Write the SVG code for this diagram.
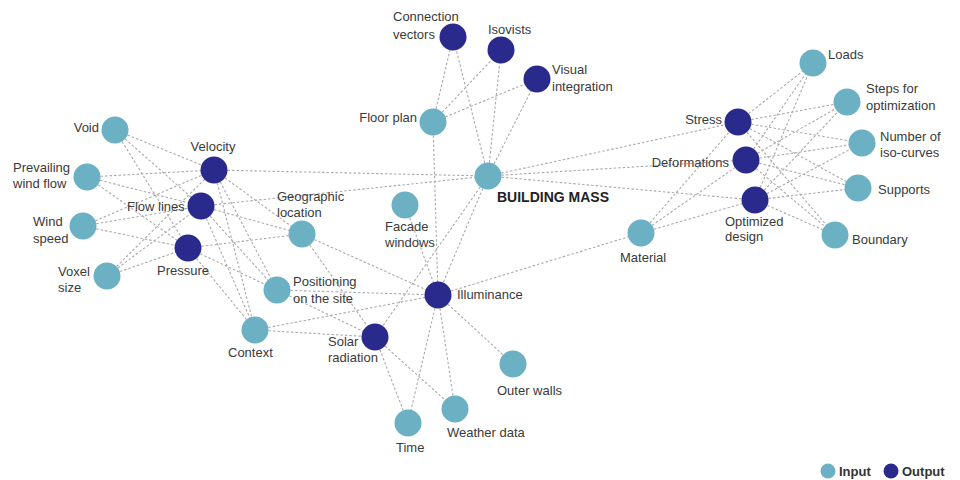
<svg xmlns="http://www.w3.org/2000/svg" width="960" height="480" viewBox="0 0 960 480">
<style>
.e{stroke:#aaaaaa;stroke-width:1.1;stroke-dasharray:2.5 2;fill:none}
.in{fill:#6cb0c4}
.out{fill:#2a2a8c}
text{font-family:"Liberation Sans",Arial,sans-serif;font-size:13px;fill:#3a3a3a}
.b{font-weight:bold;font-size:14px;fill:#222}
.lg{font-weight:bold;font-size:13px;fill:#333}
</style>
<rect width="960" height="480" fill="#ffffff"/>
<g id="connectors">
<line class="e" x1="115" y1="130" x2="214" y2="170"/>
<line class="e" x1="115" y1="130" x2="201" y2="206"/>
<line class="e" x1="115" y1="130" x2="188" y2="248"/>
<line class="e" x1="87" y1="177" x2="214" y2="170"/>
<line class="e" x1="87" y1="177" x2="201" y2="206"/>
<line class="e" x1="87" y1="177" x2="188" y2="248"/>
<line class="e" x1="83" y1="226" x2="214" y2="170"/>
<line class="e" x1="83" y1="226" x2="201" y2="206"/>
<line class="e" x1="83" y1="226" x2="188" y2="248"/>
<line class="e" x1="107" y1="276" x2="214" y2="170"/>
<line class="e" x1="107" y1="276" x2="201" y2="206"/>
<line class="e" x1="107" y1="276" x2="188" y2="248"/>
<line class="e" x1="214" y1="170" x2="302" y2="234"/>
<line class="e" x1="214" y1="170" x2="277" y2="290"/>
<line class="e" x1="214" y1="170" x2="255" y2="330"/>
<line class="e" x1="201" y1="206" x2="302" y2="234"/>
<line class="e" x1="201" y1="206" x2="277" y2="290"/>
<line class="e" x1="201" y1="206" x2="255" y2="330"/>
<line class="e" x1="188" y1="248" x2="302" y2="234"/>
<line class="e" x1="188" y1="248" x2="277" y2="290"/>
<line class="e" x1="188" y1="248" x2="255" y2="330"/>
<line class="e" x1="214" y1="170" x2="488" y2="176"/>
<line class="e" x1="201" y1="206" x2="488" y2="176"/>
<line class="e" x1="302" y1="234" x2="438" y2="295"/>
<line class="e" x1="302" y1="234" x2="375" y2="337"/>
<line class="e" x1="277" y1="290" x2="438" y2="295"/>
<line class="e" x1="277" y1="290" x2="375" y2="337"/>
<line class="e" x1="255" y1="330" x2="438" y2="295"/>
<line class="e" x1="255" y1="330" x2="375" y2="337"/>
<line class="e" x1="405" y1="205" x2="438" y2="295"/>
<line class="e" x1="433" y1="122" x2="453" y2="37"/>
<line class="e" x1="433" y1="122" x2="501" y2="50"/>
<line class="e" x1="433" y1="122" x2="537" y2="79"/>
<line class="e" x1="488" y1="176" x2="453" y2="37"/>
<line class="e" x1="488" y1="176" x2="501" y2="50"/>
<line class="e" x1="488" y1="176" x2="537" y2="79"/>
<line class="e" x1="433" y1="122" x2="438" y2="295"/>
<line class="e" x1="488" y1="176" x2="438" y2="295"/>
<line class="e" x1="488" y1="176" x2="375" y2="337"/>
<line class="e" x1="438" y1="295" x2="408" y2="423"/>
<line class="e" x1="438" y1="295" x2="455" y2="409"/>
<line class="e" x1="438" y1="295" x2="513" y2="364"/>
<line class="e" x1="375" y1="337" x2="408" y2="423"/>
<line class="e" x1="375" y1="337" x2="455" y2="409"/>
<line class="e" x1="438" y1="295" x2="641" y2="233"/>
<line class="e" x1="488" y1="176" x2="738" y2="122"/>
<line class="e" x1="488" y1="176" x2="746" y2="160"/>
<line class="e" x1="488" y1="176" x2="755" y2="200"/>
<line class="e" x1="641" y1="233" x2="738" y2="122"/>
<line class="e" x1="641" y1="233" x2="746" y2="160"/>
<line class="e" x1="641" y1="233" x2="755" y2="200"/>
<line class="e" x1="738" y1="122" x2="813" y2="63"/>
<line class="e" x1="738" y1="122" x2="847" y2="102"/>
<line class="e" x1="738" y1="122" x2="862" y2="143"/>
<line class="e" x1="738" y1="122" x2="858" y2="188"/>
<line class="e" x1="738" y1="122" x2="835" y2="235"/>
<line class="e" x1="746" y1="160" x2="813" y2="63"/>
<line class="e" x1="746" y1="160" x2="847" y2="102"/>
<line class="e" x1="746" y1="160" x2="862" y2="143"/>
<line class="e" x1="746" y1="160" x2="858" y2="188"/>
<line class="e" x1="746" y1="160" x2="835" y2="235"/>
<line class="e" x1="755" y1="200" x2="813" y2="63"/>
<line class="e" x1="755" y1="200" x2="847" y2="102"/>
<line class="e" x1="755" y1="200" x2="862" y2="143"/>
<line class="e" x1="755" y1="200" x2="858" y2="188"/>
<line class="e" x1="755" y1="200" x2="835" y2="235"/>
</g>
<g id="void"><circle class="in" cx="115" cy="130" r="13.5"/><text x="99" y="132" text-anchor="end">Void</text></g>
<g id="prevailing-wind-flow"><circle class="in" cx="87" cy="177" r="13.5"/><text x="13" y="172">Prevailing</text><text x="13" y="188">wind flow</text></g>
<g id="wind-speed"><circle class="in" cx="83" cy="226" r="13.5"/><text x="33" y="226">Wind</text><text x="33" y="243">speed</text></g>
<g id="voxel-size"><circle class="in" cx="107" cy="276" r="13.5"/><text x="58" y="276">Voxel</text><text x="58" y="292">size</text></g>
<g id="velocity"><circle class="out" cx="214" cy="170" r="13.5"/><text x="213" y="151" text-anchor="middle">Velocity</text></g>
<g id="flow-lines"><circle class="out" cx="201" cy="206" r="13.5"/><text x="127" y="211">Flow lines</text></g>
<g id="pressure"><circle class="out" cx="188" cy="248" r="13.5"/><text x="183" y="275" text-anchor="middle">Pressure</text></g>
<g id="geographic-location"><circle class="in" cx="302" cy="234" r="13.5"/><text x="277" y="201">Geographic</text><text x="277" y="217">location</text></g>
<g id="positioning"><circle class="in" cx="277" cy="290" r="13.5"/><text x="293" y="286">Positioning</text><text x="293" y="303">on the site</text></g>
<g id="context"><circle class="in" cx="255" cy="330" r="13.5"/><text x="228" y="357">Context</text></g>
<g id="solar-radiation"><circle class="out" cx="375" cy="337" r="13.5"/><text x="328" y="346">Solar</text><text x="328" y="362">radiation</text></g>
<g id="illuminance"><circle class="out" cx="438" cy="295" r="13.5"/><text x="457" y="299">Illuminance</text></g>
<g id="outer-walls"><circle class="in" cx="513" cy="364" r="13.5"/><text x="497" y="395">Outer walls</text></g>
<g id="weather-data"><circle class="in" cx="455" cy="409" r="13.5"/><text x="447" y="437">Weather data</text></g>
<g id="time"><circle class="in" cx="408" cy="423" r="13.5"/><text x="396" y="452">Time</text></g>
<g id="facade-windows"><circle class="in" cx="405" cy="205" r="13.5"/><text x="385" y="231">Facade</text><text x="385" y="247">windows</text></g>
<g id="floor-plan"><circle class="in" cx="433" cy="122" r="13.5"/><text x="417" y="122" text-anchor="end">Floor plan</text></g>
<g id="building-mass"><circle class="in" cx="488" cy="176" r="13.5"/><text class="b" x="497" y="202">BUILDING MASS</text></g>
<g id="connection-vectors"><circle class="out" cx="453" cy="37" r="13.5"/><text x="393" y="21">Connection</text><text x="393" y="39">vectors</text></g>
<g id="isovists"><circle class="out" cx="501" cy="50" r="13.5"/><text x="488" y="34">Isovists</text></g>
<g id="visual-integration"><circle class="out" cx="537" cy="79" r="13.5"/><text x="552" y="74">Visual</text><text x="552" y="91">integration</text></g>
<g id="loads"><circle class="in" cx="813" cy="63" r="13.5"/><text x="828" y="59">Loads</text></g>
<g id="steps-for-optimization"><circle class="in" cx="847" cy="102" r="13.5"/><text x="866" y="93">Steps for</text><text x="866" y="110">optimization</text></g>
<g id="number-of-iso-curves"><circle class="in" cx="862" cy="143" r="13.5"/><text x="880" y="141">Number of</text><text x="880" y="157">iso-curves</text></g>
<g id="supports"><circle class="in" cx="858" cy="188" r="13.5"/><text x="878" y="194">Supports</text></g>
<g id="boundary"><circle class="in" cx="835" cy="235" r="13.5"/><text x="852" y="244">Boundary</text></g>
<g id="stress"><circle class="out" cx="738" cy="122" r="13.5"/><text x="722" y="124" text-anchor="end">Stress</text></g>
<g id="deformations"><circle class="out" cx="746" cy="160" r="13.5"/><text x="729" y="167" text-anchor="end">Deformations</text></g>
<g id="optimized-design"><circle class="out" cx="755" cy="200" r="13.5"/><text x="725" y="226">Optimized</text><text x="725" y="241">design</text></g>
<g id="material"><circle class="in" cx="641" cy="233" r="13.5"/><text x="620" y="262">Material</text></g>
<g id="legend">
<circle class="in" cx="828" cy="471" r="7.5"/><text class="lg" x="839" y="476">Input</text>
<circle class="out" cx="891" cy="471" r="7.5"/><text class="lg" x="902" y="476">Output</text>
</g>
</svg>
